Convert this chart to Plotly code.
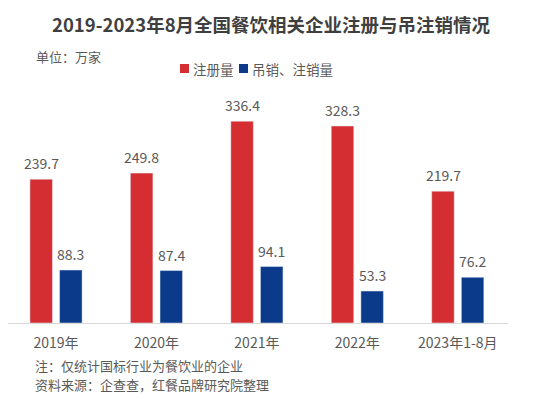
import plotly.graph_objects as go

categories = ["2019年", "2020年", "2021年", "2022年", "2023年1-8月"]
registered = [239.7, 249.8, 336.4, 328.3, 219.7]
revoked = [88.3, 87.4, 94.1, 53.3, 76.2]
series_names = ["注册量", "吊销、注销量"]

FONT = "Noto Sans CJK SC"
RED = "#D52E32"
BLUE = "#0B3A8A"
GRAY = "#595959"

# page body has an 8px margin; work in reference pixels and subtract it
OFF = 8
W, H = 545, 391
L, R, B = 0, 45, 76
PW = W - L - R
PH = 240
T = H - B - PH

def px_x(px):
    return (px - OFF - L) / PW

def px_y(py):
    return (H - B - (py - OFF)) / PH

fig = go.Figure()
for name, vals, col in [(series_names[0], registered, RED), (series_names[1], revoked, BLUE)]:
    fig.add_trace(go.Bar(
        x=categories, y=vals, name=name, marker_color=col,
        hoverinfo="x+y+name",
    ))

annotations = []
for vals, dx in [(registered, -14.75), (revoked, 14.75)]:
    for c, v in zip(categories, vals):
        annotations.append(dict(
            text=f"{v:.1f}", x=c, y=v, xref="x", yref="y", xshift=dx, yshift=16,
            xanchor="center", yanchor="middle", showarrow=False,
            font=dict(size=14, color=GRAY, family=FONT)))

paper_ann = [
    dict(text="<b>2019-2023年8月全国餐饮相关企业注册与吊注销情况</b>", x=px_x(271), y=px_y(24),
         xanchor="center", yanchor="middle", font=dict(size=18.5, color="#3F3F3F", family=FONT)),
    dict(text="单位：万家", x=px_x(35), y=px_y(57), xanchor="left", yanchor="middle",
         font=dict(size=13, color=GRAY, family=FONT)),
    dict(text="注：仅统计国标行业为餐饮业的企业", x=px_x(34), y=px_y(365), xanchor="left", yanchor="middle",
         font=dict(size=13, color=GRAY, family=FONT)),
    dict(text="资料来源：企查查，红餐品牌研究院整理", x=px_x(34), y=px_y(384.5), xanchor="left", yanchor="middle",
         font=dict(size=13, color=GRAY, family=FONT)),
    dict(text=series_names[0], x=px_x(192), y=px_y(69), xanchor="left", yanchor="middle",
         font=dict(size=13.5, color=GRAY, family=FONT)),
    dict(text=series_names[1], x=px_x(251), y=px_y(69), xanchor="left", yanchor="middle",
         font=dict(size=13.5, color=GRAY, family=FONT)),
]
for a in paper_ann:
    a.update(xref="paper", yref="paper", showarrow=False, borderpad=0)
annotations += paper_ann

shapes = [
    dict(type="rect", xref="paper", yref="paper", x0=px_x(180), x1=px_x(189), y0=px_y(73), y1=px_y(64),
         fillcolor=RED, line=dict(width=0)),
    dict(type="rect", xref="paper", yref="paper", x0=px_x(239), x1=px_x(248), y0=px_y(73), y1=px_y(64),
         fillcolor=BLUE, line=dict(width=0)),
]

fig.update_layout(
    width=W, height=H,
    margin=dict(l=L, r=R, t=T, b=B, autoexpand=False),
    paper_bgcolor="white", plot_bgcolor="white",
    barmode="group", bargap=0.41, bargroupgap=0.24,
    font=dict(family=FONT, color=GRAY),
    showlegend=False,
    annotations=annotations,
    shapes=shapes,
    xaxis=dict(range=[-0.478, 4.5], showgrid=False, showline=True, linecolor="#D9D9D9", linewidth=1,
               automargin=False, ticks="", ticklabelstandoff=7,
               tickfont=dict(size=14, color=GRAY, family=FONT)),
    yaxis=dict(range=[0, 400], visible=False, showgrid=False, zeroline=False, automargin=False),
)

fig.write_html("out.html")
